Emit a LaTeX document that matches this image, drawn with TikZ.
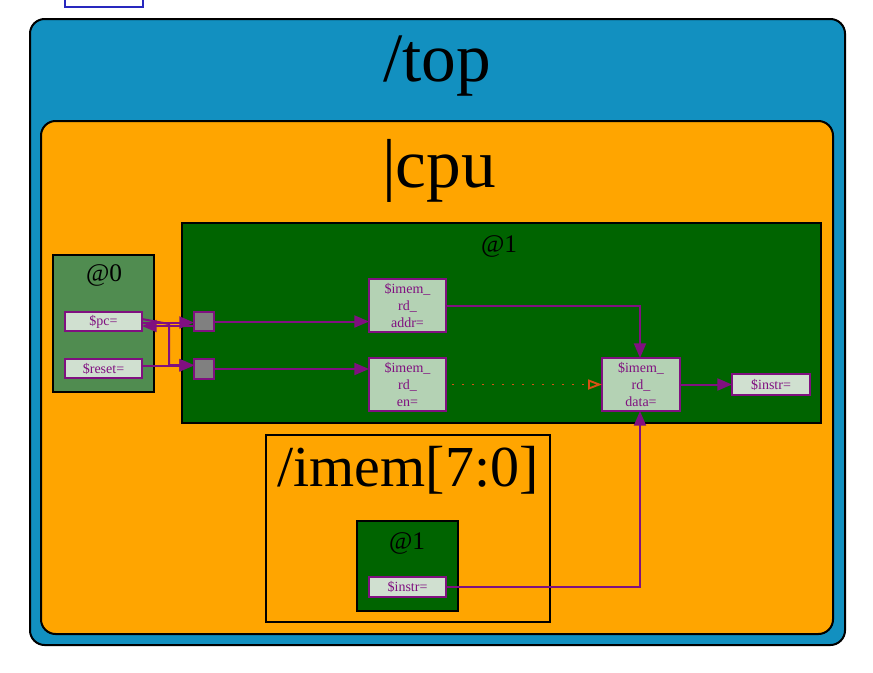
\documentclass[tikz,border=0pt]{standalone}
\usepackage{fontspec}
\setmainfont{Liberation Serif}
\usetikzlibrary{arrows.meta}
\definecolor{topblue}{RGB}{18,144,192}
\definecolor{cpuorange}{RGB}{255,165,0}
\definecolor{stagezero}{RGB}{80,140,80}
\definecolor{stagegreen}{RGB}{0,100,0}
\definecolor{sigfill}{RGB}{208,224,208}
\definecolor{exprfill}{RGB}{180,210,180}
\definecolor{wire}{RGB}{128,16,128}
\definecolor{dotwire}{RGB}{215,80,20}
\definecolor{cutblue}{RGB}{40,40,190}
\tikzset{
  sz/.style 2 args={minimum width=#1*0.75pt, minimum height=#2*0.75pt, inner sep=0pt, outer sep=0pt},
  container/.style={draw=black, line width=1.5pt, rounded corners=11pt},
  stagebox/.style={draw=black, line width=1.3pt, fill=stagegreen},
  sigbox/.style={draw=wire, line width=1.3pt, fill=sigfill, text=wire, font=\fontsize{10.5pt}{12pt}\selectfont},
  exprbox/.style={draw=wire, line width=1.3pt, fill=exprfill, text=wire, align=center, font=\fontsize{10.5pt}{12.5pt}\selectfont},
  flop/.style={draw=wire, line width=1.3pt, fill=gray},
  bigtitle/.style={font=\fontsize{52pt}{56pt}\selectfont, inner sep=0pt},
  stagetitle/.style={font=\fontsize{19pt}{22pt}\selectfont, inner sep=0pt},
  wirearrow/.style={draw=wire, line width=1.5pt, -{Triangle[length=11pt,width=9pt]}},
  dotarrow/.style={draw=dotwire, line width=1.1pt, dash pattern=on 1.2pt off 6.3pt, -{Triangle[open,length=10.5pt,width=7.5pt,line width=1.4pt]}},
}
\begin{document}
\begin{tikzpicture}[x=0.75pt,y=-0.75pt]
\useasboundingbox (0,0) rectangle (873,672);
\fill[white] (0,0) rectangle (873,672);
% cut-off box at top
\node[draw=cutblue, line width=1pt, fill=white, sz={78}{24}] (cut) at (104,-5) {};
% containers
\node[container, fill=topblue, sz={815}{626}] (top) at (437.5,332) {};
\node[bigtitle] (toplbl) at (437,66) {/top};
\node[container, fill=cpuorange, sz={792}{513}] (cpu) at (437,377.5) {};
\node[bigtitle] (cpulbl) at (439,171) {|cpu};
% stage @0
\node[draw=black, line width=1.3pt, fill=stagezero, sz={101}{137}] (st0) at (103.5,323.5) {};
\node[stagetitle] (st0lbl) at (104,275) {@0};
% stage @1
\node[stagebox, sz={639}{200}] (st1) at (501.5,323) {};
\node[stagetitle] (st1lbl) at (499,246) {@1};
% imem
\node[draw=black, line width=1.5pt, sz={284}{187}] (imem) at (408,528.5) {};
\node[font=\fontsize{43.5pt}{47pt}\selectfont, inner sep=0pt] (imemlbl) at (408,470) {/imem[7:0]};
\node[stagebox, sz={101}{90}] (ist) at (407.5,566) {};
\node[stagetitle] (istlbl) at (407,543) {@1};
% signals
\node[sigbox, sz={77}{19}] (pc) at (103.5,321.5) {\$pc=};
\node[sigbox, sz={77}{19}] (reset) at (103.5,368.5) {\$reset=};
\node[flop, sz={20}{19}] (sqa) at (204,321.5) {};
\node[flop, sz={20}{20}] (sqb) at (204,369) {};
\node[exprbox, sz={77}{53}] (addr) at (407.5,305.5) {\$imem\_\\rd\_\\addr=};
\node[exprbox, sz={77}{53}] (en) at (407.5,384.5) {\$imem\_\\rd\_\\en=};
\node[exprbox, sz={78}{53}] (data) at (641,384.5) {\$imem\_\\rd\_\\data=};
\node[sigbox, sz={78}{21}] (instr) at (771,384.5) {\$instr=};
\node[sigbox, sz={77}{20}] (iinstr) at (407.5,587) {\$instr=};
% helper coordinates
\coordinate (pcA) at ([yshift=-4.5*0.75pt]pc.east);
\coordinate (pcB) at ([yshift=-1*0.75pt]pc.east);
\coordinate (pcC) at ([yshift=2.5*0.75pt]pc.east);
\coordinate (bendC) at (169,324);
\coordinate (bendD) at (169,365);
\coordinate (dataTop) at (640,358);
\coordinate (dataBot) at (640,411);
% wires
\draw[wirearrow] (sqa.west |- pcA) -- (pcA);
\draw[wirearrow] (pcB) -- (sqa.west |- pcB);
\draw[wirearrow] (pcC) -- (bendC) -- (bendD) -- (sqb.west |- bendD);
\draw[wirearrow] ([yshift=3*0.75pt]reset.east) -- ([yshift=3*0.75pt]reset.east -| sqb.west);
\draw[wirearrow] (sqa.east) -- (sqa.east -| addr.west);
\draw[wirearrow] (sqb.east) -- (sqb.east -| en.west);
\draw[wirearrow] (addr.east) -| (dataTop);
\draw[dotarrow] ([xshift=6*0.75pt]en.east) -- (data.west);
\draw[wirearrow] (data.east) -- (instr.west);
\draw[wirearrow] (iinstr.east) -| (dataBot);
\end{tikzpicture}
\end{document}
